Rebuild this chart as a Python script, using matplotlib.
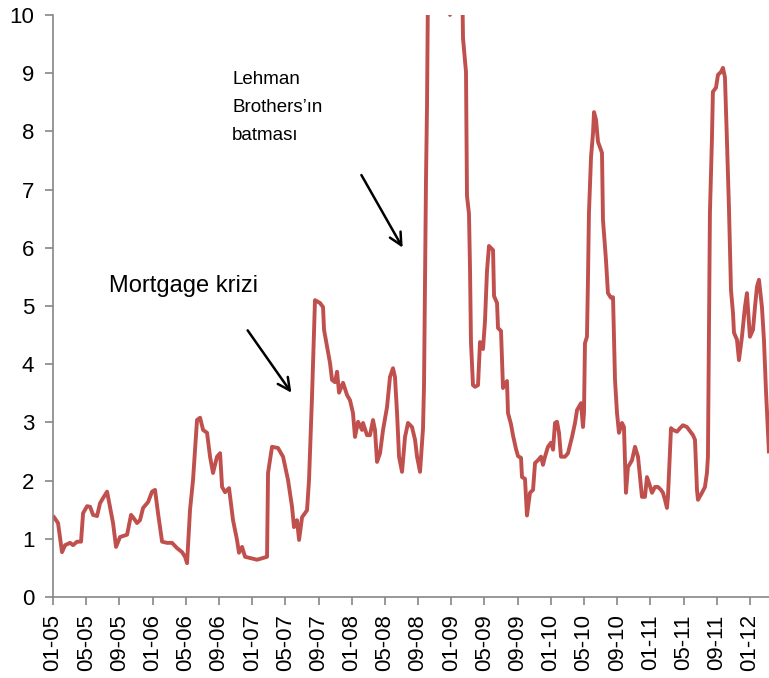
import matplotlib
matplotlib.use("Agg")
import matplotlib.pyplot as plt

plt.rcParams['font.family'] = ['Liberation Sans', 'DejaVu Sans']

# ay sayısı (0 = Ocak 2005) ve seri değerleri
ay = [0.12, 0.60, 1.08, 1.45, 2.05, 2.41, 2.89, 3.37, 3.62, 4.10, 4.46, 4.82, 5.30,
      5.66, 6.03, 6.51, 6.75, 7.23, 7.59, 8.07, 8.92, 9.40, 9.64, 10.12, 10.48, 10.85,
      11.45, 11.93, 12.29, 12.65, 13.14, 13.74, 14.34, 14.94, 15.55, 15.91, 16.15,
      16.51, 16.87, 17.35, 17.72, 18.08, 18.56, 18.92, 19.28, 19.76, 20.13, 20.37,
      20.73, 21.21, 21.69, 22.17, 22.41, 22.78, 23.14, 23.74, 24.58, 25.79, 25.91,
      26.39, 27.11, 27.72, 28.32, 28.80, 29.04, 29.40, 29.65, 30.01, 30.61, 30.85,
      31.21, 31.57, 32.18, 32.54, 32.66, 33.02, 33.38, 33.62, 33.98, 34.23, 34.47,
      34.95, 35.43, 35.79, 36.15, 36.39, 36.76, 37.24, 37.36, 37.84, 38.20, 38.56,
      38.80, 39.05, 39.41, 39.77, 40.25, 40.61, 40.97, 41.21, 41.46, 41.70, 42.06,
      42.42, 42.78, 43.26, 43.63, 43.87, 44.23, 44.59, 44.71, 44.83, 44.95, 45.07,
      45.19, 46.03, 47.12, 47.84, 48.57, 49.29, 49.41, 49.77, 49.89, 50.13, 50.25,
      50.37, 50.61, 50.86, 51.22, 51.46, 51.82, 52.06, 52.30, 52.54, 53.03, 53.15,
      53.51, 53.63, 53.99, 54.23, 54.71, 54.83, 55.19, 55.43, 55.80, 56.04, 56.40,
      56.52, 56.88, 57.12, 57.48, 57.85, 58.09, 58.45, 58.81, 59.05, 59.29, 59.65,
      60.01, 60.26, 60.50, 60.74, 60.98, 61.22, 61.70, 62.06, 62.55, 62.91, 63.15,
      63.63, 63.87, 63.99, 64.11, 64.35, 64.47, 64.59, 64.84, 65.08, 65.20, 65.44,
      65.68, 66.16, 66.28, 66.64, 66.88, 67.24, 67.49, 67.73, 67.97, 68.21, 68.57,
      68.81, 69.05, 69.29, 69.78, 70.14, 70.50, 70.98, 71.34, 71.58, 71.83, 72.19,
      72.55, 72.91, 73.27, 73.51, 73.75, 73.99, 74.11, 74.48, 74.72, 75.20, 75.56,
      75.92, 76.40, 76.76, 77.13, 77.37, 77.61, 77.73, 78.21, 78.57, 78.81, 78.93,
      79.17, 79.41, 79.53, 79.90, 80.14, 80.50, 80.74, 80.98, 81.22, 81.46, 81.71,
      81.95, 82.07, 82.43, 82.67, 83.03, 83.39, 83.63, 83.99, 84.36, 84.60, 84.84,
      85.08, 85.44, 85.68, 85.92, 86.16, 86.28]

deger = [1.37, 1.27, 0.77, 0.89, 0.93, 0.89, 0.95, 0.95, 1.44, 1.56, 1.55, 1.41, 1.39,
         1.61, 1.70, 1.81, 1.63, 1.27, 0.86, 1.03, 1.07, 1.41, 1.37, 1.27, 1.32, 1.53,
         1.63, 1.81, 1.84, 1.44, 0.95, 0.93, 0.93, 0.84, 0.77, 0.69, 0.58,
         1.50, 2.01, 3.04, 3.08, 2.87, 2.82, 2.41, 2.13, 2.41, 2.47, 1.89,
         1.80, 1.87, 1.32, 0.98, 0.76, 0.86, 0.69, 0.67, 0.64, 0.69, 2.13,
         2.58, 2.56, 2.41, 2.01, 1.55, 1.20, 1.32, 0.98, 1.37, 1.49, 2.01,
         3.44, 5.10, 5.05, 4.98, 4.59, 4.30, 4.02, 3.73, 3.69, 3.87, 3.51,
         3.68, 3.47, 3.38, 3.16, 2.75, 3.01, 2.87, 2.99, 2.78, 2.78, 3.04,
         2.87, 2.32, 2.47, 2.87, 3.26, 3.78, 3.93, 3.78, 3.16, 2.41, 2.15,
         2.75, 2.99, 2.92, 2.70, 2.41, 2.15, 2.90, 3.64, 5.36, 7.19, 8.41,
         10.5, 13.0, 11.5, 10.0, 12.0, 10.8, 9.60, 9.02, 6.89, 6.58, 5.67,
         4.38, 3.64, 3.61, 3.64, 4.38, 4.26, 4.74, 5.60, 6.03, 5.96, 5.17,
         5.05, 4.62, 4.57, 3.59, 3.71, 3.16, 2.97, 2.78, 2.54, 2.42, 2.39,
         2.06, 2.03, 1.40, 1.79, 1.84, 2.30, 2.35, 2.41, 2.27, 2.41, 2.58,
         2.65, 2.53, 2.99, 3.01, 2.82, 2.41, 2.41, 2.47, 2.75, 2.99, 3.21,
         3.33, 2.92, 3.16, 4.36, 4.47, 5.45, 6.60, 7.56, 7.97, 8.33, 8.20,
         7.82, 7.63, 6.48, 5.79, 5.22, 5.14, 5.15, 3.73, 3.16, 2.82, 2.99,
         2.92, 1.79, 2.23, 2.35, 2.58, 2.41, 1.72, 1.72, 2.06, 1.96, 1.79,
         1.89, 1.89, 1.84, 1.79, 1.67, 1.53, 1.72, 2.90, 2.87, 2.84, 2.90,
         2.95, 2.92, 2.85, 2.78, 2.70, 1.84, 1.67, 1.79, 1.89, 2.13, 2.41,
         6.60, 7.85, 8.68, 8.75, 8.97, 9.02, 9.09, 8.93, 7.85, 6.70, 5.27,
         4.88, 4.54, 4.42, 4.07, 4.47, 4.98, 5.22, 4.47, 4.59, 4.98, 5.33,
         5.45, 4.98, 4.42, 3.56, 2.87, 2.50]

tick_ay = list(range(0, 85, 4))
tick_etiket = ['01-05', '05-05', '09-05', '01-06', '05-06', '09-06', '01-07', '05-07',
               '09-07', '01-08', '05-08', '09-08', '01-09', '05-09', '09-09', '01-10',
               '05-10', '09-10', '01-11', '05-11', '09-11', '01-12']

fig = plt.figure(figsize=(7.69, 6.78), dpi=100)
ax = fig.add_axes([0.069, 0.1195, 0.931, 0.8585])

ax.plot(ay, deger, color='#C0504D', lw=2.8, solid_joinstyle='round')

ax.set_xlim(0, 86.29)
ax.set_ylim(0, 10)
ax.set_yticks(range(0, 11))
ax.set_xticks(tick_ay)
ax.set_xticklabels(tick_etiket, rotation=90)

for s in ['top', 'right']:
    ax.spines[s].set_visible(False)
for s in ['left', 'bottom']:
    ax.spines[s].set_color('#868686')
    ax.spines[s].set_linewidth(1.2)
ax.tick_params(axis='both', direction='out', length=5.5, width=1.2, color='#868686',
               labelsize=16, labelcolor='black')
ax.tick_params(axis='y', pad=8)
ax.tick_params(axis='x', pad=7)

# Notlar ve oklar
ax.text(6.75, 5.24, 'Mortgage krizi', fontsize=17, va='baseline', ha='left')
ax.annotate('', xy=(28.92, 3.47), xytext=(23.26, 4.62),
            arrowprops=dict(arrowstyle='->', lw=1.8, color='black', mutation_scale=22))
ax.text(21.57, 9.04, 'Lehman\nBrothers\u2019ın\nbatması', fontsize=13.5, va='top',
        ha='left', linespacing=1.85)
ax.annotate('', xy=(42.30, 5.96), xytext=(37.0, 7.29),
            arrowprops=dict(arrowstyle='->', lw=1.8, color='black', mutation_scale=22))

fig.savefig('out.png', dpi=100)
